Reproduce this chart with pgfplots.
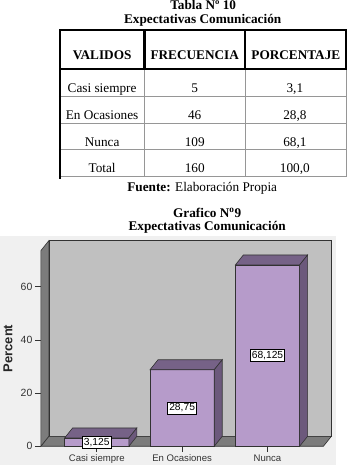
\documentclass[border=0pt]{standalone}
\usepackage{pgfplots}
\pgfplotsset{compat=1.18}
\usepackage{fontspec}
\setmainfont{Liberation Serif}
\newfontfamily\arial{Liberation Sans}
\definecolor{bgc}{RGB}{240,240,240}
\definecolor{wallc}{RGB}{192,192,192}
\definecolor{floorc}{RGB}{124,124,124}
\definecolor{barc}{RGB}{182,155,202}
\definecolor{topc}{RGB}{118,98,135}
\definecolor{sidec}{RGB}{108,89,124}
\definecolor{edgec}{RGB}{50,50,50}
\definecolor{tgray}{RGB}{150,150,150}
\pgfdeclareplotmark{nothing}{}
\begin{document}
\begin{tikzpicture}
\begin{scope}[x=1pt,y=1pt]
\path[use as bounding box] (0,0) rectangle (350,-467);
\fill[bgc] (0,-237) rectangle (337,-467);
% titles
\node[anchor=base,font=\bfseries\fontsize{13.3}{15}\selectfont,inner sep=0] at (204,-9.8) {Tabla Nº 10};
\node[anchor=base,font=\bfseries\fontsize{13.3}{15}\selectfont,inner sep=0] at (203.5,-23.5) {Expectativas Comunicación};
% table body lines
\draw[tgray,line width=0.8pt] (59,-97) -- (348,-97) (59,-123.5) -- (348,-123.5) (59,-150) -- (348,-150) (59,-177) -- (348,-177);
\draw[tgray,line width=0.8pt] (145,-70) -- (145,-177) (246,-70) -- (246,-177) (348,-70) -- (348,-177);
\draw[black,line width=2.5pt] (60,-70) -- (60,-180);
% header
\draw[black,line width=2.5pt] (60,-30) rectangle (347.5,-69.5);
\draw[black,line width=2.5pt] (145,-30) -- (145,-69.5) (246,-30) -- (246,-69.5);
\begin{scope}[every node/.style={anchor=base,inner sep=0,font=\fontsize{13.3}{15}\selectfont}]
\node[font=\bfseries\fontsize{13.3}{15}\selectfont] at (102.5,-59.3) {VALIDOS};
\node[font=\bfseries\fontsize{13.3}{15}\selectfont] at (195.5,-59.3) {FRECUENCIA};
\node[font=\bfseries\fontsize{13.3}{15}\selectfont] at (297,-59.3) {PORCENTAJE};
\node at (102.5,-93.3) {Casi siempre};
\node at (195.5,-93.3) {5};
\node at (296,-93.3) {3,1};
\node at (102.5,-120) {En Ocasiones};
\node at (195.5,-120) {46};
\node at (296,-120) {28,8};
\node at (102.5,-146.7) {Nunca};
\node at (195.5,-146.7) {109};
\node at (296,-146.7) {68,1};
\node at (102.5,-173.3) {Total};
\node at (195.5,-173.3) {160};
\node at (296,-173.3) {100,0};
\node at (203,-192.7) {\textbf{Fuente:} Elaboración Propia};
\node[font=\bfseries\fontsize{13.3}{15}\selectfont] at (208,-218.5) {Grafico N\textsuperscript{o}9};
\node[font=\bfseries\fontsize{13.3}{15}\selectfont] at (208,-231.7) {Expectativas Comunicación};
\end{scope}
\end{scope}
\begin{axis}[
  at={(41pt,-448pt)}, anchor=south west,
  x=85.7pt, y=2.672pt,
  xmin=-0.655, xmax=2.655, ymin=0, ymax=73.5,
  axis lines*=left, axis line style={draw=none},
  xtick={0,1,2}, xticklabels={Casi siempre, En Ocasiones, Nunca},
  ytick={0,20,40,60},
  tick align=outside, major tick length=6pt,
  tick style={black!80, line width=0.6pt},
  tick label style={font=\arial\fontsize{10.5}{12}\selectfont, text=black!80},
  xticklabel style={font=\arial\fontsize{9.6}{11}\selectfont, yshift=1pt},
  yticklabel style={xshift=1pt},
  /pgf/number format/assume math mode=true,
  clip=false,
]
\fill[wallc, draw=edgec, line width=0.6pt] ([shift={(8pt,10pt)}]rel axis cs:0,0) rectangle ([shift={(8pt,10pt)}]rel axis cs:1,1);
\fill[floorc, draw=edgec, line width=0.6pt] (rel axis cs:0,0) -- (rel axis cs:1,0) -- ([shift={(8pt,10pt)}]rel axis cs:1,0) -- ([shift={(8pt,10pt)}]rel axis cs:0,0) -- cycle;
\fill[floorc, draw=edgec, line width=0.6pt] (rel axis cs:0,0) -- (rel axis cs:0,1) -- ([shift={(8pt,10pt)}]rel axis cs:0,1) -- ([shift={(8pt,10pt)}]rel axis cs:0,0) -- cycle;
\node[rotate=90, font=\arial\bfseries\fontsize{13}{14}\selectfont, text=black!85, anchor=center] at ([xshift=-33pt]rel axis cs:0,0.5) {Percent};
\addplot[ybar, bar width=64.5pt, fill=barc, draw=edgec, line width=0.6pt] coordinates {(0,3.125) (1,28.75) (2,68.125)};
\addplot[scatter, only marks, mark=nothing,
  visualization depends on={rawy \as \rawy},
  scatter/@pre marker code/.code={
    \pgfmathsetmacro{\h}{-\rawy*2.672}
    \pgfmathsetmacro{\hb}{10-\rawy*2.672}
    \pgfmathsetmacro{\hm}{-0.5*\rawy*2.672}
    \filldraw[fill=topc, draw=edgec, line width=0.6pt] (-32.25pt,0pt) -- (32.25pt,0pt) -- (40.25pt,10pt) -- (-24.25pt,10pt) -- cycle;
    \filldraw[fill=sidec, draw=edgec, line width=0.6pt] (32.25pt,0pt) -- (40.25pt,10pt) -- (40.25pt,\hb pt) -- (32.25pt,\h pt) -- cycle;
    \node[fill=white, draw=black, line width=0.6pt, inner sep=1.6pt, font=\arial\fontsize{10.3}{11}\selectfont] at (0pt,\hm pt) {\pgfmathprintnumber[fixed,precision=3,use comma]{\rawy}};
  },
  scatter/@post marker code/.code={},
] coordinates {(0,3.125) (1,28.75) (2,68.125)};
\end{axis}
\end{tikzpicture}
\end{document}
